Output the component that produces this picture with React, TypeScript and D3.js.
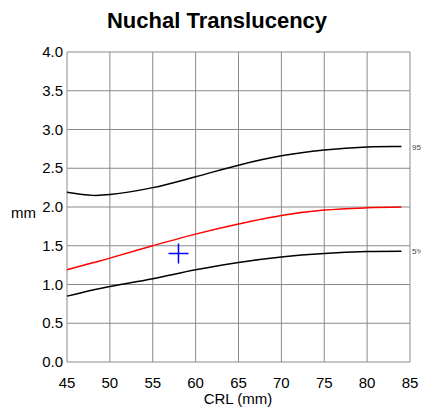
import React from 'react';
import * as d3 from 'd3';

const crl = [45, 48, 50, 55, 60, 65, 70, 75, 80, 84];
const p95 = [2.19, 2.15, 2.16, 2.25, 2.39, 2.54, 2.66, 2.735, 2.775, 2.78];
const p50 = [1.19, 1.28, 1.34, 1.5, 1.65, 1.78, 1.89, 1.96, 1.99, 2.0];
const p5 = [0.85, 0.93, 0.975, 1.075, 1.19, 1.285, 1.355, 1.4, 1.425, 1.43];
const xTicks = [45, 50, 55, 60, 65, 70, 75, 80, 85];
const yTicks = [0, 0.5, 1, 1.5, 2, 2.5, 3, 3.5, 4];
const measured = { crl: 58, nt: 1.4 };

export default function App() {
  const width = 421;
  const height = 410;
  const MARGIN = { top: 52, right: 11, bottom: 48, left: 67 };
  const boundsWidth = width - MARGIN.left - MARGIN.right;
  const boundsHeight = height - MARGIN.top - MARGIN.bottom;

  const xScale = d3.scaleLinear().domain([45, 85]).range([0, boundsWidth]);
  const yScale = d3.scaleLinear().domain([0, 4]).range([boundsHeight, 0]);

  const line = d3
    .line<number>()
    .x((_, i) => xScale(crl[i]))
    .y((d) => yScale(d))
    .curve(d3.curveCatmullRom.alpha(0.5));

  const font = "'Liberation Sans', Arial, sans-serif";
  const gridColor = '#8a8a8a';

  const mx = xScale(measured.crl);
  const my = yScale(measured.nt);

  return (
    <svg
      width={width}
      height={height}
      style={{ position: 'absolute', left: 0, top: 0, background: '#fff' }}
      fontFamily={font}
    >
      <text x={217} y={28} textAnchor="middle" fontSize={22} fontWeight="bold">
        Nuchal Translucency
      </text>
      <g transform={`translate(${MARGIN.left},${MARGIN.top})`}>
        {xTicks.map((v) => (
          <g key={'x' + v}>
            <line x1={xScale(v)} x2={xScale(v)} y1={0} y2={boundsHeight} stroke={gridColor} />
            <text x={xScale(v)} y={boundsHeight + 26} textAnchor="middle" fontSize={15}>
              {v}
            </text>
          </g>
        ))}
        {yTicks.map((v) => (
          <g key={'y' + v}>
            <line x1={0} x2={boundsWidth} y1={yScale(v)} y2={yScale(v)} stroke={gridColor} />
            <text x={-4} y={yScale(v) + 5} textAnchor="end" fontSize={15}>
              {v.toFixed(1)}
            </text>
          </g>
        ))}
        <path d={line(p95) ?? ''} fill="none" stroke="#000" strokeWidth={1.5} />
        <path d={line(p50) ?? ''} fill="none" stroke="#f00" strokeWidth={1.5} />
        <path d={line(p5) ?? ''} fill="none" stroke="#000" strokeWidth={1.5} />
        <text x={boundsWidth + 2} y={yScale(p95[p95.length - 1]) + 3} fontSize={8} fill="#444">
          95%
        </text>
        <text x={boundsWidth + 2} y={yScale(p5[p5.length - 1]) + 3} fontSize={8} fill="#444">
          5%
        </text>
        <line x1={mx - 10} x2={mx + 10} y1={my} y2={my} stroke="#00f" strokeWidth={1.5} />
        <line x1={mx} x2={mx} y1={my - 10} y2={my + 10} stroke="#00f" strokeWidth={1.5} />
      </g>
      <text x={11} y={218} fontSize={15}>
        mm
      </text>
      <text x={238} y={404} textAnchor="middle" fontSize={15}>
        CRL (mm)
      </text>
    </svg>
  );
}
